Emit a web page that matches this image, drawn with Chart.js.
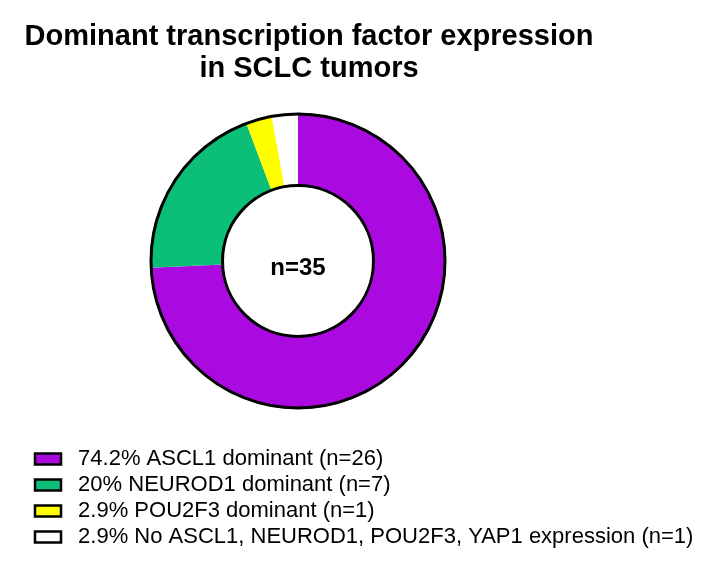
<!DOCTYPE html>
<html>
<head>
<meta charset="utf-8">
<script src="https://cdn.jsdelivr.net/npm/chart.js@4"></script>
<style>
  body { margin: 0; background: #fff; }
  #wrap { width: 722px; height: 571px; }
</style>
</head>
<body>
<div id="wrap"><canvas id="tfChart"></canvas></div>
<script>
// Data
const groups = ["ASCL1 dominant", "NEUROD1 dominant", "POU2F3 dominant", "No ASCL1, NEUROD1, POU2F3, YAP1 expression"];
const counts = [26, 7, 1, 1];
const percents = ["74.2", "20", "2.9", "2.9"];
const colors = ["#aa0ae0", "#0cbf78", "#ffff00", "#ffffff"];

const FONT = "Arial, 'Liberation Sans', Helvetica, sans-serif";
const total = counts.reduce((a, b) => a + b, 0);

// title and legend are wider than the space centred on the doughnut
const widenPlugin = {
  id: "widen",
  afterLayout(chart) {
    const tb = chart.titleBlock;
    tb.left = 19; tb.right = 599; tb.width = tb.right - tb.left;
    const lg = chart.legend;
    lg.right = chart.width; lg.width = lg.right - lg.left;
  }
};

// black outer / inner rings + centre label
const ringPlugin = {
  id: "ring",
  afterDatasetsDraw(chart) {
    const arc = chart.getDatasetMeta(0).data[0];
    if (!arc) return;
    const { x, y, outerRadius, innerRadius } = arc.getProps(["x", "y", "outerRadius", "innerRadius"], true);
    const ctx = chart.ctx;
    ctx.save();
    ctx.strokeStyle = "#000";
    ctx.lineWidth = 3;
    ctx.beginPath();
    ctx.arc(x, y, outerRadius - 1, 0, Math.PI * 2);
    ctx.stroke();
    ctx.beginPath();
    ctx.arc(x, y, innerRadius, 0, Math.PI * 2);
    ctx.stroke();
    ctx.fillStyle = "#000";
    ctx.font = "bold 24px " + FONT;
    ctx.textAlign = "center";
    ctx.textBaseline = "alphabetic";
    ctx.fillText("n=" + total, x, y + 14);
    ctx.restore();
  }
};

new Chart(document.getElementById("tfChart"), {
  type: "doughnut",
  data: {
    labels: groups.map((g, i) => `${percents[i]}% ${g} (n=${counts[i]})`),
    datasets: [{
      data: counts,
      backgroundColor: colors,
      borderWidth: 0,
      cutout: "51%"
    }]
  },
  options: {
    responsive: true,
    maintainAspectRatio: false,
    animation: false,
    layout: { padding: { left: 31, right: 157, top: 0, bottom: 13 } },
    plugins: {
      tooltip: { enabled: false },
      title: {
        display: true,
        text: ["Dominant transcription factor expression", "in SCLC tumors"],
        color: "#000",
        font: { family: FONT, size: 29, weight: "bold", lineHeight: "32px" },
        padding: { top: 21, bottom: 28 }
      },
      legend: {
        position: "bottom",
        align: "start",
        title: { display: true, text: "", font: { size: 10, lineHeight: "35px" }, padding: 0 },
        labels: {
          color: "#000",
          font: { family: FONT, size: 22 },
          boxWidth: 26,
          boxHeight: 11,
          padding: 4,
          generateLabels(chart) {
            return chart.data.labels.map((text, i) => ({
              text: " " + text,
              fillStyle: colors[i],
              strokeStyle: "#000",
              lineWidth: 2.5,
              fontColor: "#000",
              hidden: false,
              index: i
            }));
          }
        }
      }
    }
  },
  plugins: [widenPlugin, ringPlugin]
});
</script>
</body>
</html>
